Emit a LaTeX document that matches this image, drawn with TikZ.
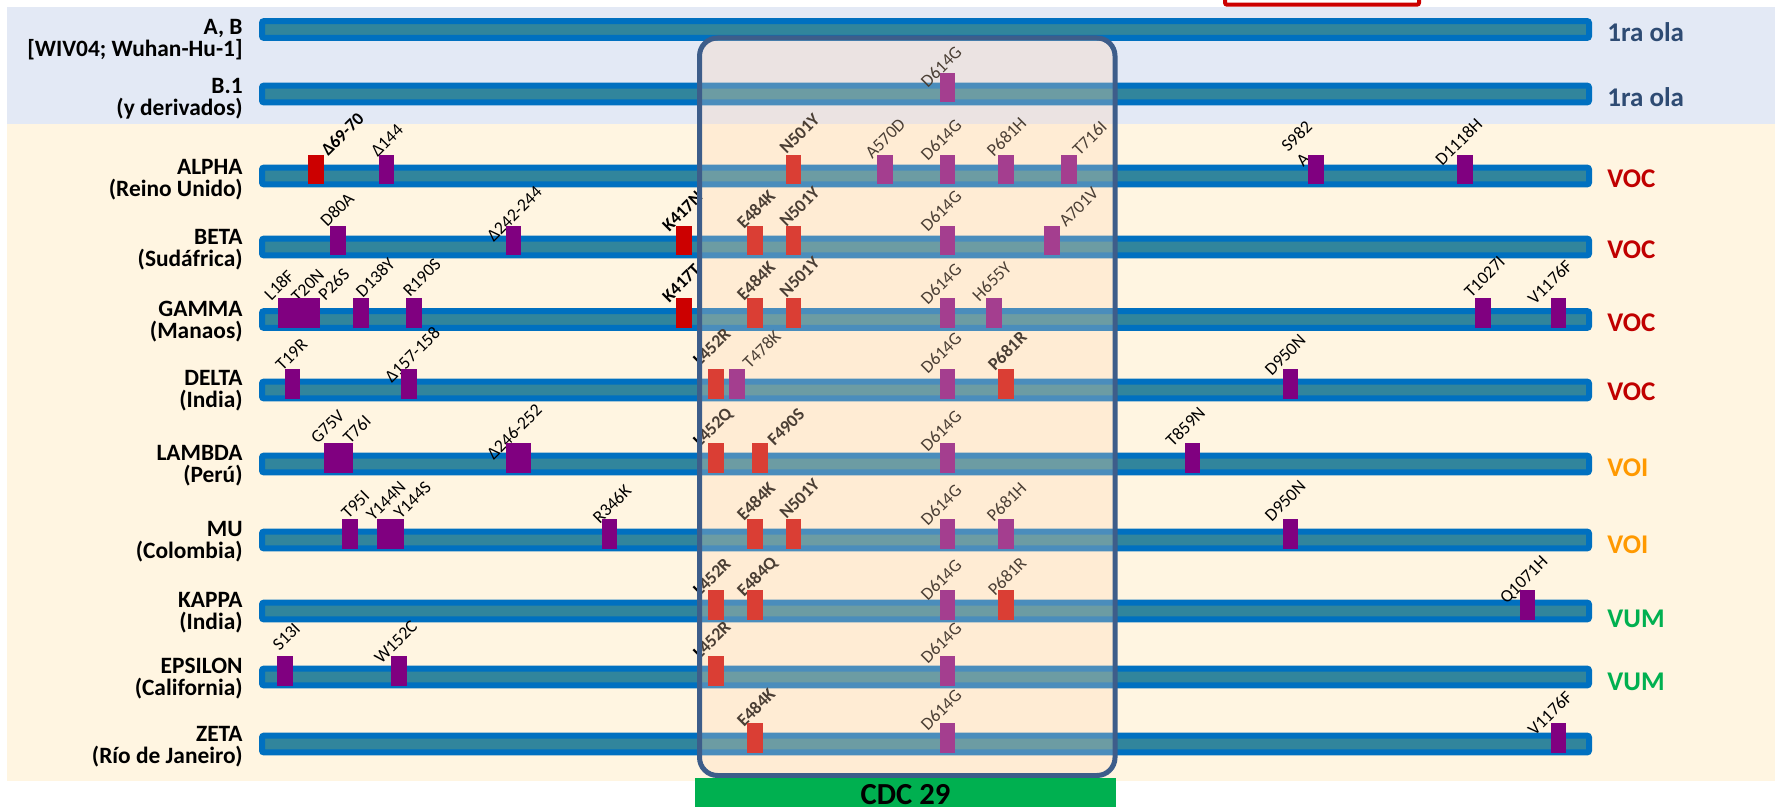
\documentclass[tikz,border=0pt]{standalone}
\usepackage{fontspec}
\setmainfont{Carlito}
\definecolor{barblue}{HTML}{0070C0}
\definecolor{barteal}{HTML}{31859C}
\definecolor{mutpurple}{HTML}{800080}
\definecolor{mutred}{HTML}{CC0000}
\definecolor{bgblue}{HTML}{E3E9F5}
\definecolor{bgcream}{HTML}{FFF5E1}
\definecolor{boxblue}{HTML}{3D5D8A}
\definecolor{boxpeach}{HTML}{FFD7B5}
\definecolor{olablue}{HTML}{2E4B73}
\definecolor{vocred}{HTML}{C00000}
\definecolor{voiorange}{HTML}{FF9900}
\definecolor{vumgreen}{HTML}{00B050}
\pgfdeclarelayer{marks}
\pgfdeclarelayer{front}
\pgfsetlayers{main,marks,front}
\tikzset{
  spike bar/.style={draw=barblue, fill=barteal, line width=3pt, rounded corners=1pt},
  pmark/.style={fill=mutpurple, inner sep=0pt, outer sep=0pt, minimum width=7.85pt, minimum height=14.75pt},
  pmarkw/.style={pmark, minimum width=12.7pt},
  rmark/.style={pmark, fill=mutred},
  mutlab/.style={rotate=45, anchor=base west, inner sep=0pt, align=left, font=\fontsize{8.9}{10.5}\selectfont},
  rowlab/.style={anchor=base east, align=right, inner sep=0pt, font=\fontsize{11.7}{11}\selectfont\bfseries},
  catlab/.style={anchor=west, inner sep=0pt, font=\fontsize{13.5}{14}\selectfont\bfseries},
  cdc box/.style={draw=boxblue, line width=2.5pt, rounded corners=9pt, fill=boxpeach, fill opacity=0.29},
}
% one variant: name, bar centre, list of x/label dx/label dy/label/mark style
\newcommand\mutrow[3]{%
  \foreach \mx/\dx/\dy/\lab/\mk [count=\i] in {#3}{
    \node[mutlab] (#1-l\i) at ({\mx+(\dx)},{#2-21+(\dy)}) {\lab};
    \begin{pgfonlayer}{marks}
      \node[\mk] (#1-m\i) at (\mx,#2-6.25) {};
    \end{pgfonlayer}
  }}

\begin{document}
\begin{tikzpicture}[x=0.5pt, y=-0.5pt]
  \useasboundingbox (0,0) rectangle (1775,807);
  \clip (0,0) rectangle (1775,807);
  % backgrounds
  \fill[bgblue] (6.7,7) rectangle (1775,124);
  \fill[bgcream] (6.7,124) rectangle (1775,781);
  \draw[mutred, line width=2pt, rounded corners=1pt] (1225,-30) rectangle (1419,4.7);

  % spike genomes
  \foreach \c in {29.5,94,176,247,319.5,390,464,540,611,677,744}
    \draw[spike bar] (262,\c-8.4) rectangle (1589,\c+8.4);

  % variant names (base = second line)
  \node[rowlab] (ab-name)    at (243,57)    {A, B\\{}[WIV04; Wuhan-Hu-1]};
  \node[rowlab] (b1-name)    at (243,115.3) {B.1\\(y derivados)};
  \node[rowlab] (alpha-name) at (243,197)   {ALPHA\\(Reino Unido)};
  \node[rowlab] (beta-name)  at (243,267)   {BETA\\(Sudáfrica)};
  \node[rowlab] (gamma-name) at (243,338.7) {GAMMA\\(Manaos)};
  \node[rowlab] (delta-name) at (243,407)   {DELTA\\(India)};
  \node[rowlab] (lambda-name) at (243,482)  {LAMBDA\\(Perú)};
  \node[rowlab] (mu-name)    at (243,558.7) {MU\\(Colombia)};
  \node[rowlab] (kappa-name) at (243,629.7) {KAPPA\\(India)};
  \node[rowlab] (eps-name)   at (243,695.3) {EPSILON\\(California)};
  \node[rowlab] (zeta-name)  at (243,763.7) {ZETA\\(Río de Janeiro)};

  % categories
  \node[catlab, text=olablue] (ab-cat) at (1607,32.5) {1ra ola};
  \node[catlab, text=olablue] (b1-cat) at (1607,97) {1ra ola};
  \node[catlab, text=vocred] (alpha-cat) at (1607,179) {VOC};
  \node[catlab, text=vocred] (beta-cat) at (1607,250) {VOC};
  \node[catlab, text=vocred] (gamma-cat) at (1607,322.5) {VOC};
  \node[catlab, text=vocred] (delta-cat) at (1607,392) {VOC};
  \node[catlab, text=voiorange] (lambda-cat) at (1607,468) {VOI};
  \node[catlab, text=voiorange] (mu-cat) at (1607,545) {VOI};
  \node[catlab, text=vumgreen] (kappa-cat) at (1607,619) {VUM};
  \node[catlab, text=vumgreen] (eps-cat) at (1607,681.5) {VUM};

  % mutations
  \mutrow{b1}{94}{947.6/-20/15.6/D614G/pmark}
  \mutrow{alpha}{176}{316/12/2/\textbf{Δ69-70}/rmark, 386.6/-9/3/Δ144/pmark,
    793.4/-7/0/\textbf{N501Y}/rmark, 885/-13/5/A570D/pmark, 947.6/-20/7/D614G/pmark,
    1005.7/-12/3/P681H/pmark, 1069.3/10/2/T716I/pmark, 1316/-13/13/S982\\A/pmark,
    1465/-23/12/D1118H/pmark}
  \mutrow{beta}{247}{338.2/-11/2/D80A/pmark, 513.6/-20/17/Δ242-244/pmark,
    684/-15/7/\textbf{K417N}/rmark, 754.9/-11/4/\textbf{E484K}/rmark,
    793.4/-7/2/\textbf{N501Y}/rmark, 947.6/-20/7/D614G/pmark, 1051.7/14/2/A701V/pmark}
  \mutrow{gamma}{319.5}{286/-15/3/L18F/pmark, 299/-1/5/T20N/pmark, 312.2/13/3/P26S/pmark,
    360.7/2/0/D138Y/pmark, 413.8/-4/-1/R190S/pmark, 684/-15/5/\textbf{K417T}/rmark,
    754.9/-11/3/\textbf{E484K}/rmark, 793.4/-7/0/\textbf{N501Y}/rmark,
    947.6/-20/7.5/D614G/pmark, 994/-15/4/H655Y/pmark, 1483/-12/0/T1027I/pmark,
    1558.6/-24/7.5/V1176F/pmark}
  \mutrow{delta}{390}{292.4/-10/3/T19R/pmark, 408.7/-17/15/Δ157-158/pmark,
    715.9/-16/-2/\textbf{L452R}/rmark, 736.7/13/1/T478K/pmark, 947.6/-20/6/D614G/pmark,
    1005.7/-11/3/\textbf{P681R}/rmark, 1290.5/-19/8/D950N/pmark}
  \mutrow{lambda}{464}{331.5/-14/2/G75V/pmark, 344.8/5/2/T76I/pmark,
    518.5/-25/18/Δ246-252/pmarkw, 715.9/-16/5/\textbf{L452Q}/rmark,
    760.3/14/4/\textbf{F490S}/rmark, 947.6/-20/10/D614G/pmark, 1192.6/-20/5/T859N/pmark}
  \mutrow{mu}{540}{350.2/-2/1/T95I/pmark, 385/-12/3/Y144N/pmark, 396.2/4.5/1/Y144S/pmark,
    609.6/-10/6/R346K/pmark, 754.9/-11/3/\textbf{E484K}/rmark,
    793.4/-7/1/\textbf{N501Y}/rmark, 947.6/-20/8/D614G/pmark, 1005.7/-12/4/P681H/pmark,
    1290.5/-19/4/D950N/pmark}
  \mutrow{kappa}{611}{715.9/-16/7/\textbf{L452R}/rmark, 754.9/-11/8/\textbf{E484Q}/rmark,
    947.6/-20/12/D614G/pmark, 1005.7/-11/7/P681R/rmark, 1527.5/-21/15/Q1071H/pmark}
  \mutrow{eps}{677}{284.8/-5.5/-4/S13I/pmark, 399/-18/9/W152C/pmark,
    715.9/-16/4/\textbf{L452R}/rmark, 947.6/-20/9/D614G/pmark}
  \mutrow{zeta}{744}{754.9/-11/5/\textbf{E484K}/rmark, 947.6/-20/9/D614G/pmark,
    1558.6/-24/14/V1176F/pmark}

  % CDC 29 window
  \begin{pgfonlayer}{front}
    \draw[cdc box] (699.5,38) rectangle (1115,775.5);
    \fill[vumgreen] (695,778) rectangle (1116,807);
    \node[anchor=base, inner sep=0pt, font=\fontsize{15.3}{16}\selectfont\bfseries] (cdc) at (905.5,804) {CDC 29};
  \end{pgfonlayer}
\end{tikzpicture}
\end{document}
